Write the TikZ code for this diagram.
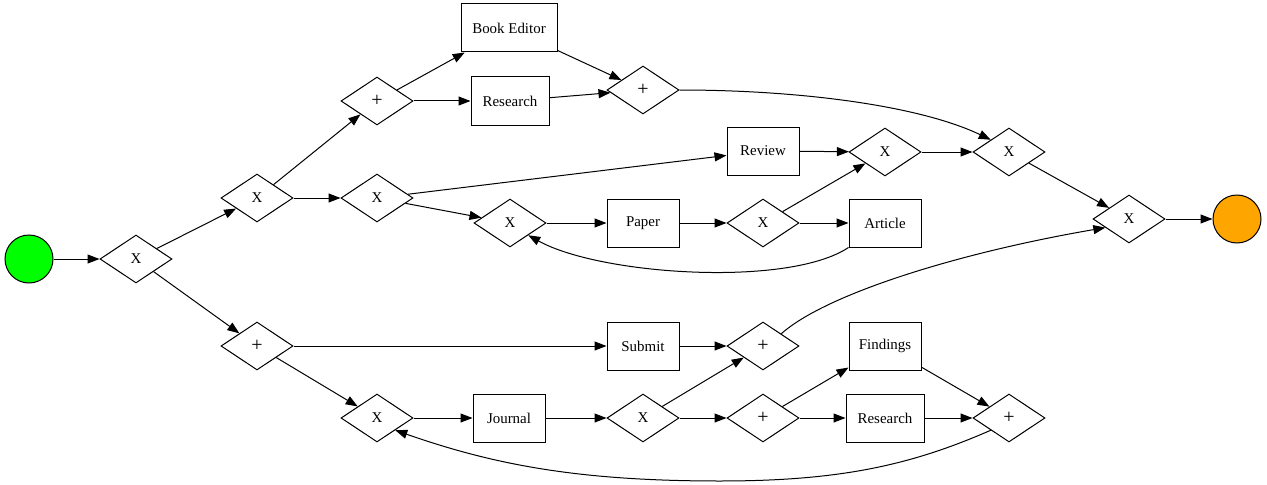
\documentclass[tikz,border=0pt]{standalone}
\usepackage{fontspec}
\setmainfont{Liberation Serif}
\usepackage{tikz}
\usetikzlibrary{arrows.meta,shapes.geometric,positioning}
\tikzset{BPMN style/.style={>={Triangle[length=9pt,width=6.75pt]},line width=0.75pt,
		every node/.style={font=\fontsize{11.2}{13}\selectfont}},
	gate/.style={draw,diamond,inner sep=0,minimum width=54pt,minimum height=36pt},
	task/.style={draw,rectangle,inner sep=2pt,minimum width=54pt,minimum height=36pt},
	event/.style={draw,circle,inner sep=0,minimum size=36pt}}
\definecolor{startgreen}{RGB}{0,255,0}
\definecolor{endorange}{RGB}{255,165,0}
\newcommand{\plusgate}{{\fontsize{15}{15}\selectfont +}}

\begin{document}
\begin{tikzpicture}[BPMN style,x=0.75pt,y=-0.75pt]
	\useasboundingbox (0,0) rectangle (1267,485);
	
	\node[event,fill=startgreen] (S) at (29,259) {};
	\node[event,fill=endorange] (E) at (1237,219) {};
	
	\node[gate] (X1) at (136,259) {X};
	\node[gate] (X2) at (257,198) {X};
	\node[gate] (P1) at (257,346) {\plusgate};
	\node[gate] (P2) at (377,101) {\plusgate};
	\node[gate] (X3) at (377,198) {X};
	\node[gate] (X4) at (510,223) {X};
	\node[gate] (P3) at (643,90) {\plusgate};
	\node[gate] (X5) at (763,223) {X};
	\node[gate] (X6) at (885,152) {X};
	\node[gate] (X7) at (1009,152) {X};
	\node[gate] (X8) at (1129,219) {X};
	\node[gate] (P4) at (763,346) {\plusgate};
	\node[gate] (X9) at (377,418) {X};
	\node[gate] (X10) at (643,418) {X};
	\node[gate] (P5) at (763,418) {\plusgate};
	\node[gate] (P6) at (1009,418) {\plusgate};
	
	\node[task,minimum width=72pt] (BE) at (509,28) {Book Editor};
	\node[task,minimum width=58.5pt] (R1) at (510,101) {Research};
	\node[task] (Rev) at (763,151) {Review};
	\node[task] (Pap) at (643,223) {Paper};
	\node[task] (Art) at (885,223) {Article};
	\node[task] (Sub) at (643,346) {Submit};
	\node[task] (Jou) at (509,418) {Journal};
	\node[task] (Fin) at (885,346) {Findings};
	\node[task,minimum width=58.5pt] (R2) at (885,418) {Research};
	
	\coordinate (B1) at (720,481);
	
	\draw[->] (S) -- (X1);
	\draw[->] (X1) -- (X2);
	\draw[->] (X1) -- (P1);
	\draw[->] (X2) -- (P2);
	\draw[->] (X2) -- (X3);
	\draw[->] (P2) -- (BE);
	\draw[->] (P2) -- (R1);
	\draw[->] (BE) -- (P3);
	\draw[->] (R1) -- (P3);
	\draw[->] (X3) -- (Rev);
	\draw[->] (X3) -- (X4);
	\draw[->] (X4) -- (Pap);
	\draw[->] (Pap) -- (X5);
	\draw[->] (X5) -- (X6);
	\draw[->] (X5) -- (Art);
	\draw[->] (Rev) -- (X6);
	\draw[->] (X6) -- (X7);
	\draw[->] (X7) -- (X8);
	\draw[->] (X8) -- (E);
	\draw[->] (P1) -- (Sub);
	\draw[->] (P1) -- (X9);
	\draw[->] (Sub) -- (P4);
	\draw[->] (X9) -- (Jou);
	\draw[->] (Jou) -- (X10);
	\draw[->] (X10) -- (P4);
	\draw[->] (X10) -- (P5);
	\draw[->] (P5) -- (Fin);
	\draw[->] (P5) -- (R2);
	\draw[->] (Fin) -- (P6);
	\draw[->] (R2) -- (P6);
	
	\draw[->] (P3.east) ..controls +(121,0) and +(-71,-34).. (X7.north west); % arc top
	\draw[->] (Art.south west) ..controls +(-60,40) and +(72,40).. (X4.south east); % arc back
	\draw[->] (P4.north east) ..controls +(45,-40) and +(-146,25).. (X8.200); % arc up
	\draw (P6.south west) ..controls +(-80,35) and +(120,0).. (B1); % arc bottom 1
	\draw[->] (B1) ..controls +(-140,0) and +(100,35).. (X9.south east); % arc bottom 2
\end{tikzpicture}
\end{document}
